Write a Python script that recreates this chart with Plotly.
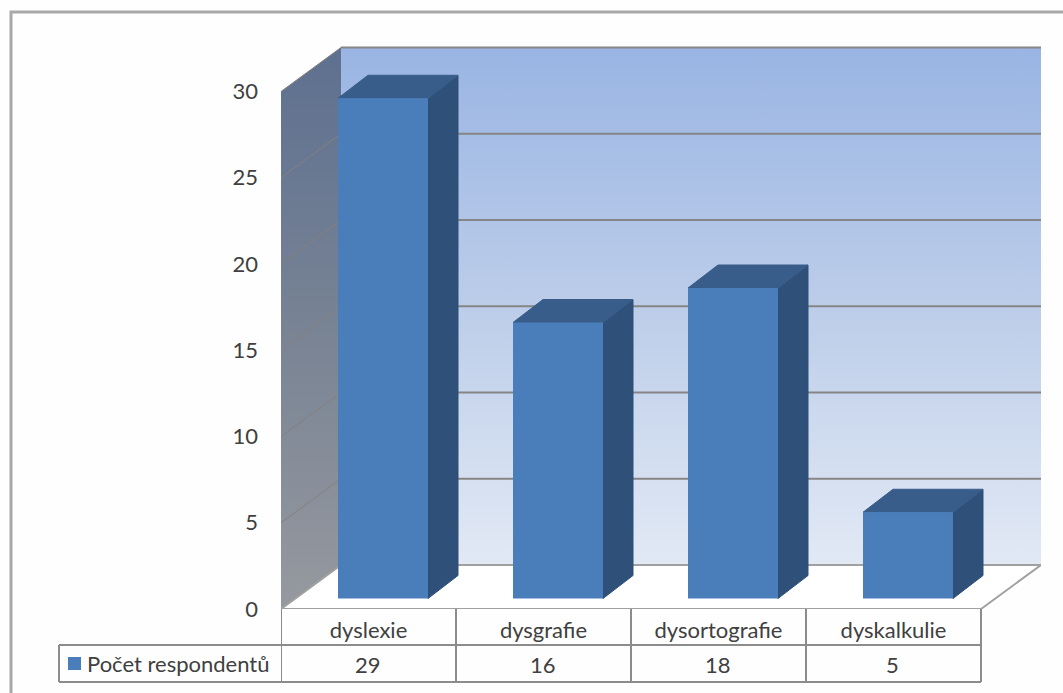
import plotly.graph_objects as go

# Chart data
categories = ["dyslexie", "dysgrafie", "dysortografie", "dyskalkulie"]
respondents = [29, 16, 18, 5]
series_name = "Počet respondentů"
y_ticks = [0, 5, 10, 15, 20, 25, 30]

# Canvas and plot-area layout, in pixels
WIDTH, HEIGHT = 1063, 693
LEFT, RIGHT, TOP, BOTTOM = 281, 1041, 46, 609
CATEGORY_PX = 175.0
UNIT_PX = 17.25

# Pseudo-3D projection, in pixels
WALL_DX, WALL_DY = 60, 44
BAR_DX, BAR_DY = 30, 23
BAR_X_SHIFT = 14.5
BAR_WIDTH_PX = 90
BAR_LIFT_PX = 10.5

# Colours
FRONT = "#4a7ebb"
SIDE = "#2f5078"
CAP = "#385d8a"
GRID = "#868686"
TEXT = "#404040"
TABLE = "#8c8c8c"
FONT = "Lato, Carlito, sans-serif"
FONT_SIZE = 22


def dx(px):
    return px / CATEGORY_PX


def dy(px):
    return px / UNIT_PX


def pap_x(px):
    return (px - LEFT) / (RIGHT - LEFT)


def pap_y(px):
    return (BOTTOM - px) / (BOTTOM - TOP)


x_max = dx(RIGHT - LEFT)
y_max = dy(BOTTOM - TOP)
wall_x, wall_y = dx(WALL_DX), dy(WALL_DY)
bar_w, cap_x, cap_y = dx(BAR_WIDTH_PX), dx(BAR_DX), dy(BAR_DY)
lift = dy(BAR_LIFT_PX)
centers = [i + 0.5 + dx(BAR_X_SHIFT) for i in range(len(categories))]
n_cat = len(categories)
top_value = y_ticks[-1]

fig = go.Figure()

# Back wall
fig.add_trace(go.Scatter(
    x=[wall_x, x_max, x_max, wall_x, wall_x],
    y=[wall_y, wall_y, top_value + wall_y, top_value + wall_y, wall_y],
    mode="lines", line=dict(width=0), fill="toself",
    fillgradient=dict(type="vertical", colorscale=[
        [0, "#e2e9f5"], [0.5, "#bccde9"], [1, "#9ab5e4"]]),
    cliponaxis=False, hoverinfo="skip", zorder=0,
))
# Side wall
fig.add_trace(go.Scatter(
    x=[0, wall_x, wall_x, 0, 0],
    y=[0, wall_y, top_value + wall_y, top_value, 0],
    mode="lines", line=dict(width=0), fill="toself",
    fillgradient=dict(type="vertical", colorscale=[
        [0, "#96999f"], [0.5, "#788394"], [1, "#5e7090"]]),
    cliponaxis=False, hoverinfo="skip", zorder=0,
))
# Floor
fig.add_trace(go.Scatter(
    x=[0, wall_x, x_max, n_cat, 0],
    y=[0, wall_y, wall_y, 0, 0],
    mode="lines", line=dict(width=2, color="#a0a0a0"),
    fill="toself", fillcolor="#ffffff",
    cliponaxis=False, hoverinfo="skip", zorder=0,
))
# Gridlines across both walls
for t in y_ticks[1:]:
    fig.add_trace(go.Scatter(
        x=[wall_x, x_max], y=[t + wall_y, t + wall_y],
        mode="lines", line=dict(width=2, color=GRID),
        cliponaxis=False, hoverinfo="skip", zorder=0,
    ))
    fig.add_trace(go.Scatter(
        x=[0, wall_x], y=[t, t + wall_y],
        mode="lines", line=dict(width=1, color="#85807e"),
        cliponaxis=False, hoverinfo="skip", zorder=0,
    ))

# Bar sides and caps, stroked in their own colour to close the seams
for c, v in zip(centers, respondents):
    r = c + bar_w / 2
    l = c - bar_w / 2
    fig.add_trace(go.Scatter(
        x=[r, r + cap_x, r + cap_x, r, r],
        y=[lift, lift + cap_y, lift + v + cap_y, lift + v, lift],
        mode="lines", line=dict(width=1, color=SIDE), fill="toself", fillcolor=SIDE,
        cliponaxis=False, hoverinfo="skip", zorder=1,
    ))
    fig.add_trace(go.Scatter(
        x=[l, l + cap_x, r + cap_x, r, l],
        y=[lift + v, lift + v + cap_y, lift + v + cap_y, lift + v, lift + v],
        mode="lines", line=dict(width=1, color=CAP), fill="toself", fillcolor=CAP,
        cliponaxis=False, hoverinfo="skip", zorder=1,
    ))

# Bar fronts
fig.add_trace(go.Bar(
    x=centers, y=respondents, base=lift, width=bar_w, name=series_name,
    marker=dict(color=FRONT, line=dict(width=0)),
    cliponaxis=False, zorder=2,
))

# Data table underneath the chart
table_line = dict(color=TABLE, width=2)
shapes = [
    # Outer chart frame, running off the right and bottom edges
    dict(type="rect", xref="paper", yref="paper",
         x0=pap_x(11), x1=pap_x(WIDTH + 20), y0=pap_y(HEIGHT + 20), y1=pap_y(12),
         line=dict(color="#a8a8a8", width=3), layer="below"),
    dict(type="line", xref="paper", yref="paper",
         x0=pap_x(59), x1=pap_x(981), y0=pap_y(645), y1=pap_y(645), line=table_line),
    dict(type="line", xref="paper", yref="paper",
         x0=pap_x(59), x1=pap_x(981), y0=pap_y(682), y1=pap_y(682), line=table_line),
    dict(type="line", xref="paper", yref="paper",
         x0=pap_x(59), x1=pap_x(59), y0=pap_y(645), y1=pap_y(682), line=table_line),
    # Legend key
    dict(type="rect", xref="paper", yref="paper",
         x0=pap_x(68), x1=pap_x(81), y0=pap_y(657), y1=pap_y(670),
         fillcolor=FRONT, line=dict(width=0)),
]
for i in range(n_cat + 1):
    shapes.append(dict(type="line", xref="x", yref="paper", x0=i, x1=i,
                       y0=pap_y(682), y1=pap_y(609), line=table_line))

annotations = [
    dict(xref="paper", yref="paper", x=pap_x(85), y=pap_y(663), text=series_name,
         xanchor="left", yanchor="middle", showarrow=False,
         font=dict(family=FONT, size=FONT_SIZE, color=TEXT)),
]
for i, v in enumerate(respondents):
    annotations.append(dict(
        xref="x", yref="paper", x=i + 0.5 - dx(1), y=pap_y(664), text=str(v),
        xanchor="center", yanchor="middle", showarrow=False,
        font=dict(family=FONT, size=FONT_SIZE, color=TEXT)))

fig.update_layout(
    width=WIDTH, height=HEIGHT,
    margin=dict(l=LEFT, r=WIDTH - RIGHT, t=TOP, b=HEIGHT - BOTTOM, pad=0),
    paper_bgcolor="#fefefe", plot_bgcolor="rgba(0,0,0,0)",
    showlegend=False, shapes=shapes, annotations=annotations,
    font=dict(family=FONT, size=FONT_SIZE, color=TEXT),
    xaxis=dict(range=[0, x_max], tickmode="array",
               tickvals=[i + 0.5 for i in range(n_cat)], ticktext=categories,
               showgrid=False, zeroline=False, showline=False, ticks="",
               ticklabelstandoff=6, tickangle=0, fixedrange=True),
    yaxis=dict(range=[0, y_max], tickmode="array", tickvals=y_ticks,
               ticktext=[str(t) for t in y_ticks],
               showgrid=False, zeroline=False, showline=False, ticks="",
               ticklabelstandoff=22, fixedrange=True),
)

fig.write_html("out.html", config=dict(displayModeBar=False))
